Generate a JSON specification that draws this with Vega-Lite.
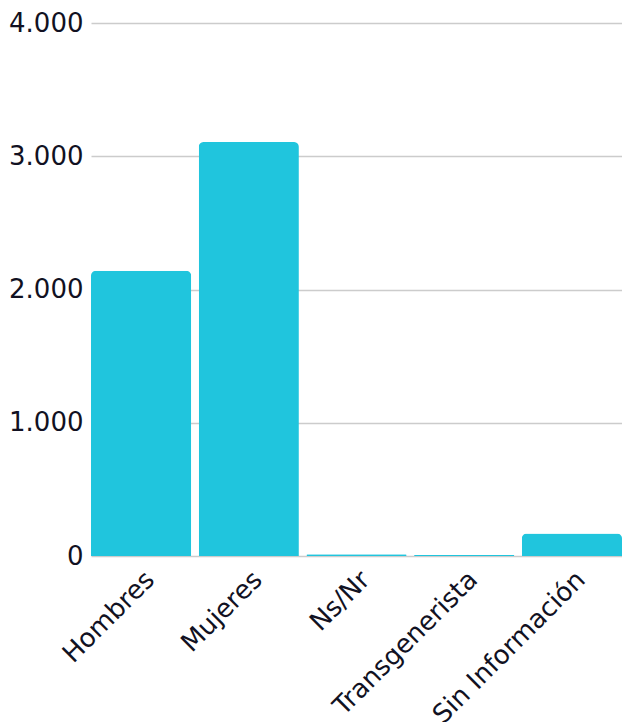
{
  "$schema": "https://vega.github.io/schema/vega-lite/v6.json",
  "width": 531,
  "height": 533,
  "autosize": {"type": "none"},
  "padding": {"left": 91, "top": 23, "right": 0, "bottom": 166},
  "background": "white",
  "data": {
    "values": [
      {"categoria": "Hombres", "valor": 2140},
      {"categoria": "Mujeres", "valor": 3107},
      {"categoria": "Ns/Nr", "valor": 14},
      {"categoria": "Transgenerista", "valor": 8},
      {"categoria": "Sin Información", "valor": 168}
    ]
  },
  "mark": {"type": "bar", "color": "#20C5DD", "cornerRadiusTopLeft": 5, "cornerRadiusTopRight": 5},
  "encoding": {
    "x": {
      "field": "categoria",
      "type": "nominal",
      "sort": null,
      "scale": {"paddingInner": 0.07, "paddingOuter": 0},
      "axis": {
        "title": null,
        "labelAngle": -45,
        "labelFontSize": 26,
        "labelFont": "DejaVu Sans",
        "labelColor": "#111122",
        "labelLimit": 500,
        "labelOverlap": false,
        "ticks": false,
        "domain": false,
        "labelPadding": 10
      }
    },
    "y": {
      "field": "valor",
      "type": "quantitative",
      "scale": {"domain": [0, 4000]},
      "axis": {
        "title": null,
        "values": [0, 1000, 2000, 3000, 4000],
        "format": ",.0f",
        "labelFontSize": 26,
        "labelFont": "DejaVu Sans",
        "labelColor": "#111122",
        "ticks": false,
        "domain": false,
        "labelPadding": 8,
        "gridColor": "#cccccc",
        "gridWidth": 1.5
      }
    }
  },
  "config": {
    "view": {"stroke": null},
    "locale": {
      "number": {"decimal": ",", "thousands": ".", "grouping": [3], "currency": ["$", ""]}
    }
  }
}
